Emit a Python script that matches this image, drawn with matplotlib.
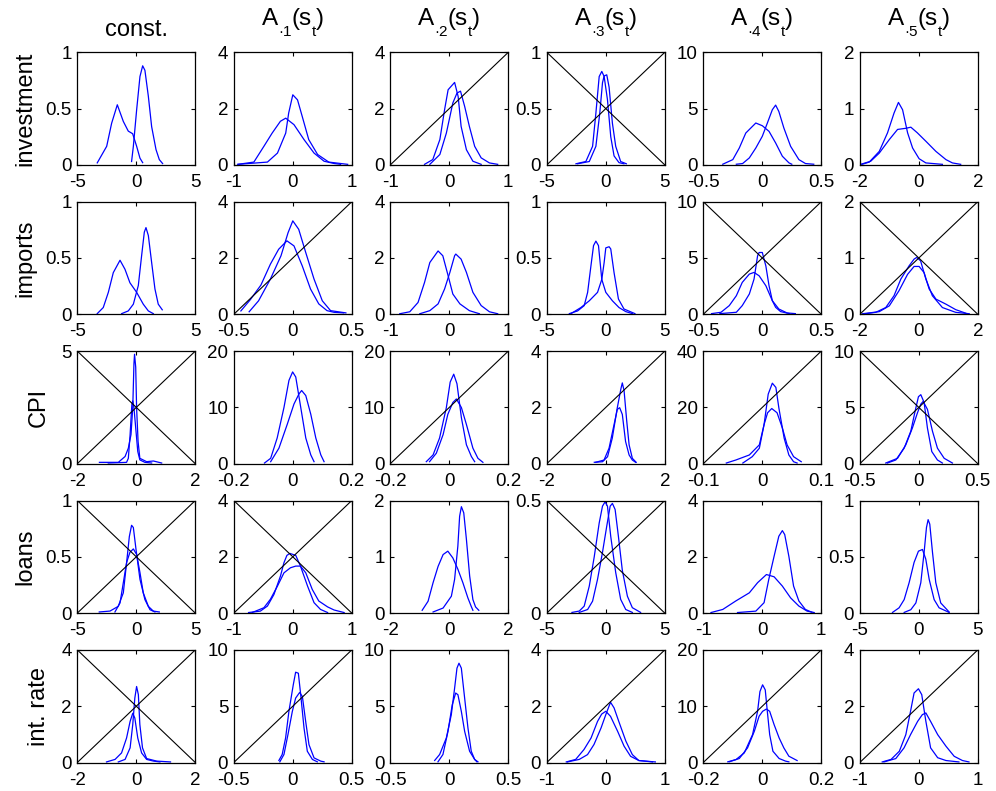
import matplotlib
matplotlib.use("Agg")
import matplotlib.pyplot as plt
from matplotlib.transforms import offset_copy

plt.rcParams["font.family"] = ["Liberation Sans", "DejaVu Sans"]
plt.rcParams["axes.unicode_minus"] = False

# Column headers: (text, size, baseline shift in pt) pieces, and row (variable) names
col_titles = [
    [("const.", 17, 0)],
    [("A", 17.5, 0), ("\u00b71", 11, -8), ("(s", 17.5, 0), ("t", 11, -8), (")", 17.5, 0)],
    [("A", 17.5, 0), ("\u00b72", 11, -8), ("(s", 17.5, 0), ("t", 11, -8), (")", 17.5, 0)],
    [("A", 17.5, 0), ("\u00b73", 11, -8), ("(s", 17.5, 0), ("t", 11, -8), (")", 17.5, 0)],
    [("A", 17.5, 0), ("\u00b74", 11, -8), ("(s", 17.5, 0), ("t", 11, -8), (")", 17.5, 0)],
    [("A", 17.5, 0), ("\u00b75", 11, -8), ("(s", 17.5, 0), ("t", 11, -8), (")", 17.5, 0)],
]
row_names = ["investment", "imports", "CPI", "loans", "int. rate"]

# Half-width of the x range and top of the y range for each panel
x_half = [[5, 1, 1, 5, 0.5, 2],
          [5, 0.5, 1, 5, 0.5, 2],
          [2, 0.2, 0.2, 2, 0.1, 0.5],
          [5, 1, 2, 5, 1, 5],
          [2, 0.5, 0.5, 1, 0.2, 1]]
y_top = [[1, 4, 4, 1, 10, 2],
         [1, 4, 4, 1, 10, 2],
         [5, 20, 20, 4, 40, 10],
         [1, 4, 2, 0.5, 4, 1],
         [4, 10, 10, 4, 20, 4]]

# Reference diagonals: "/" rising, "x" both diagonals, "" none
diagonals = [["", "", "/", "x", "", ""],
             ["", "/", "", "", "x", "x"],
             ["x", "", "/", "/", "/", "x"],
             ["x", "x", "", "x", "", ""],
             ["x", "/", "", "/", "/", "/"]]

# Posterior densities: for each panel two curves, each as (x, density)
investment = [
    (([-3.31, -2.51, -2.09, -1.61, -1.10, -0.68, -0.31, 0.03, 0.31, 0.54],
      [0.018, 0.165, 0.37, 0.534, 0.386, 0.30, 0.277, 0.165, 0.06, 0.02]),
     ([-0.40, -0.25, 0.03, 0.31, 0.54, 0.73, 1.02, 1.30, 1.67, 1.95, 2.23],
      [0.03, 0.165, 0.49, 0.785, 0.88, 0.84, 0.61, 0.34, 0.136, 0.047, 0.012])),
    (([-0.93, -0.66, -0.49, -0.35, -0.21, -0.12, 0.02, 0.19, 0.36, 0.53, 0.70, 0.81],
      [0.02, 0.1, 0.66, 1.13, 1.55, 1.66, 1.43, 0.9, 0.42, 0.13, 0.05, 0.02]),
     ([-0.93, -0.43, -0.26, -0.12, -0.07, 0.0, 0.08, 0.16, 0.27, 0.42, 0.61, 0.93],
      [0.02, 0.1, 0.42, 1.13, 1.84, 2.49, 2.31, 1.72, 0.9, 0.37, 0.1, 0.02])),
    (([-0.42, -0.28, -0.16, -0.08, -0.02, 0.09, 0.15, 0.20, 0.29, 0.40, 0.54],
      [0.02, 0.19, 0.9, 1.96, 2.67, 2.93, 2.43, 1.37, 0.54, 0.13, 0.02]),
     ([-0.33, -0.16, -0.05, 0.06, 0.13, 0.19, 0.26, 0.34, 0.43, 0.54, 0.68, 0.82],
      [0.02, 0.37, 1.13, 2.2, 2.55, 2.62, 2.08, 1.37, 0.66, 0.25, 0.07, 0.02])),
    (([-2.53, -1.69, -1.12, -0.84, -0.56, -0.34, -0.14, 0.14, 0.42, 0.70, 1.12, 1.54],
      [0.01, 0.03, 0.165, 0.46, 0.785, 0.83, 0.785, 0.58, 0.25, 0.08, 0.02, 0.01]),
     ([-2.39, -1.40, -0.84, -0.51, -0.28, -0.14, 0.08, 0.28, 0.56, 0.84, 1.26, 1.74],
      [0.01, 0.03, 0.165, 0.46, 0.73, 0.79, 0.80, 0.69, 0.37, 0.165, 0.03, 0.01])),
    (([-0.335, -0.25, -0.195, -0.14, -0.055, 0.0, 0.057, 0.113, 0.17, 0.226, 0.25],
      [0.06, 0.47, 1.5, 2.83, 3.72, 3.48, 2.98, 1.95, 0.77, 0.18, 0.06]),
     ([-0.22, -0.167, -0.11, -0.055, 0.0, 0.043, 0.085, 0.113, 0.14, 0.183, 0.24, 0.31, 0.366, 0.436],
      [0.06, 0.12, 0.62, 1.5, 2.54, 3.72, 4.9, 5.31, 4.75, 3.27, 1.65, 0.47, 0.12, 0.06])),
    (([-1.93, -1.68, -1.34, -1.06, -0.84, -0.69, -0.55, -0.38, -0.21, 0.01, 0.24, 0.80],
      [0.01, 0.05, 0.24, 0.57, 0.92, 1.11, 0.98, 0.57, 0.30, 0.11, 0.035, 0.01]),
     ([-1.97, -1.63, -1.34, -1.0, -0.72, -0.44, -0.27, -0.05, 0.24, 0.58, 0.92, 1.14, 1.42],
      [0.01, 0.065, 0.21, 0.45, 0.63, 0.65, 0.67, 0.57, 0.42, 0.24, 0.094, 0.035, 0.01])),
]

imports = [
    (([-3.31, -2.8, -2.37, -1.95, -1.38, -0.96, -0.54, 0.03, 0.59, 1.02, 1.44],
      [0.006, 0.06, 0.195, 0.37, 0.48, 0.40, 0.28, 0.195, 0.09, 0.03, 0.006]),
     ([-1.24, -0.68, -0.25, 0.17, 0.45, 0.68, 0.82, 1.02, 1.30, 1.58, 1.86, 2.20],
      [0.006, 0.03, 0.09, 0.255, 0.52, 0.73, 0.77, 0.70, 0.46, 0.225, 0.09, 0.04])),
    (([-0.44, -0.36, -0.27, -0.19, -0.12, -0.05, 0.01, 0.08, 0.15, 0.22, 0.29, 0.35, 0.43],
      [0.12, 0.52, 1.04, 1.78, 2.31, 2.61, 2.43, 1.72, 0.9, 0.37, 0.13, 0.07, 0.05]),
     ([-0.37, -0.29, -0.19, -0.10, -0.04, 0.0, 0.05, 0.11, 0.18, 0.25, 0.32, 0.45],
      [0.09, 0.48, 1.25, 2.08, 2.9, 3.32, 3.02, 2.19, 1.25, 0.48, 0.13, 0.05])),
    (([-0.84, -0.67, -0.53, -0.42, -0.33, -0.19, -0.11, -0.02, 0.06, 0.18, 0.34, 0.51],
      [0.02, 0.09, 0.42, 1.13, 1.84, 2.25, 2.08, 1.37, 0.72, 0.37, 0.13, 0.02]),
     ([-0.50, -0.33, -0.19, -0.08, 0.01, 0.09, 0.11, 0.2, 0.29, 0.40, 0.54, 0.68, 0.82],
      [0.02, 0.13, 0.37, 0.9, 1.49, 2.08, 2.14, 1.96, 1.49, 0.78, 0.31, 0.09, 0.02])),
    (([-3.09, -2.39, -1.83, -1.54, -1.26, -1.04, -0.84, -0.62, -0.34, 0.0, 0.56, 1.12, 1.69, 2.25],
      [0.006, 0.03, 0.077, 0.195, 0.43, 0.61, 0.65, 0.61, 0.31, 0.195, 0.12, 0.06, 0.024, 0.006]),
     ([-2.95, -2.11, -1.40, -0.70, -0.34, -0.14, 0.0, 0.28, 0.42, 0.70, 1.07, 1.54, 2.47],
      [0.006, 0.06, 0.12, 0.195, 0.31, 0.46, 0.59, 0.60, 0.58, 0.37, 0.136, 0.047, 0.006])),
    (([-0.43, -0.35, -0.28, -0.22, -0.17, -0.11, -0.07, -0.027, 0.03, 0.085, 0.14, 0.21, 0.28],
      [0.06, 0.18, 0.77, 1.65, 2.83, 3.57, 3.72, 3.42, 2.54, 1.21, 0.47, 0.12, 0.06]),
     ([-0.36, -0.22, -0.17, -0.11, -0.07, -0.04, -0.027, 0.0, 0.03, 0.057, 0.085, 0.113, 0.155, 0.23],
      [0.06, 0.18, 0.77, 1.8, 3.13, 5.19, 5.49, 5.49, 4.3, 2.54, 1.21, 0.62, 0.24, 0.06])),
    (([-1.80, -1.46, -1.12, -0.84, -0.61, -0.33, -0.16, -0.07, 0.06, 0.24, 0.46, 0.80, 1.25, 1.71],
      [0.01, 0.035, 0.12, 0.33, 0.625, 0.86, 0.98, 1.01, 0.95, 0.625, 0.33, 0.12, 0.035, 0.01]),
     ([-1.91, -1.34, -1.0, -0.67, -0.38, -0.16, 0.01, 0.18, 0.35, 0.58, 0.92, 1.25, 1.59],
      [0.01, 0.047, 0.15, 0.42, 0.71, 0.85, 0.85, 0.74, 0.45, 0.27, 0.18, 0.083, 0.02])),
]

cpi = [
    (([-1.25, -0.61, -0.38, -0.27, -0.18, -0.12, -0.08, -0.06, -0.02, 0.01, 0.06, 0.12, 0.35, 0.58, 0.86],
      [0.06, 0.06, 0.32, 0.69, 1.29, 2.49, 4.44, 4.86, 4.29, 2.49, 0.99, 0.24, 0.09, 0.12, 0.03]),
     ([-0.95, -0.33, -0.27, -0.21, -0.15, -0.12, -0.08, -0.01, 0.05, 0.12, 0.29, 0.52],
      [0.03, 0.06, 0.24, 1.29, 2.64, 2.79, 2.49, 1.44, 0.54, 0.17, 0.06, 0.03])),
    (([-0.096, -0.075, -0.053, -0.030, -0.013, -0.0006, 0.010, 0.027, 0.044, 0.061, 0.072],
      [0.12, 0.96, 4.56, 9.97, 14.8, 16.3, 15.4, 9.97, 4.56, 1.56, 0.36]),
     ([-0.075, -0.047, -0.019, 0.004, 0.021, 0.030, 0.044, 0.061, 0.078, 0.095, 0.106],
      [0.36, 2.76, 6.97, 10.6, 12.4, 13.0, 12.1, 8.77, 4.56, 1.56, 0.36])),
    (([-0.078, -0.055, -0.033, -0.010, 0.003, 0.015, 0.026, 0.041, 0.058, 0.075, 0.086],
      [0.36, 1.56, 4.56, 9.97, 14.5, 15.9, 14.2, 8.17, 3.36, 1.26, 0.36]),
     ([-0.067, -0.044, -0.021, -0.005, 0.012, 0.024, 0.041, 0.058, 0.080, 0.097, 0.114],
      [0.36, 1.86, 5.17, 8.77, 10.87, 11.5, 9.97, 6.97, 2.76, 0.96, 0.24])),
    (([-0.39, -0.11, 0.06, 0.22, 0.39, 0.51, 0.56, 0.62, 0.71, 0.79, 0.90, 1.03],
      [0.05, 0.07, 0.25, 0.91, 1.99, 2.65, 2.87, 2.59, 1.51, 0.67, 0.19, 0.05]),
     ([-0.34, -0.06, 0.11, 0.28, 0.39, 0.47, 0.56, 0.67, 0.79, 0.90, 1.01],
      [0.05, 0.13, 0.55, 1.39, 1.93, 1.99, 1.75, 0.79, 0.31, 0.13, 0.05])),
    (([-0.061, -0.045, -0.022, -0.005, 0.003, 0.010, 0.017, 0.023, 0.028, 0.037, 0.045, 0.053, 0.059],
      [0.24, 1.3, 3.1, 6.7, 13.9, 24.7, 28.6, 27.1, 19.9, 9.1, 3.1, 0.7, 0.24]),
     ([-0.033, -0.017, -0.005, 0.003, 0.009, 0.016, 0.025, 0.034, 0.042, 0.053, 0.066],
      [0.24, 2.5, 5.5, 13.9, 18.1, 19.6, 18.1, 12.7, 6.7, 2.5, 0.7])),
    (([-0.266, -0.195, -0.124, -0.068, -0.031, -0.003, 0.017, 0.045, 0.073, 0.110, 0.158, 0.20],
      [0.06, 0.33, 1.38, 2.88, 4.68, 5.95, 6.13, 5.44, 3.18, 1.08, 0.33, 0.06]),
     ([-0.28, -0.18, -0.11, -0.054, -0.011, 0.017, 0.037, 0.073, 0.116, 0.158, 0.215, 0.285],
      [0.06, 0.48, 1.68, 3.18, 4.53, 5.29, 5.53, 4.83, 2.88, 1.38, 0.48, 0.06])),
]

loans = [
    (([-3.14, -2.23, -1.53, -1.10, -0.82, -0.59, -0.40, -0.25, -0.03, 0.31, 0.73, 1.16, 1.58],
      [0.01, 0.018, 0.06, 0.18, 0.45, 0.68, 0.78, 0.76, 0.57, 0.30, 0.12, 0.03, 0.01]),
     ([-1.81, -1.38, -1.10, -0.82, -0.54, -0.25, 0.03, 0.31, 0.59, 1.02, 1.44, 1.95],
      [0.01, 0.09, 0.27, 0.45, 0.54, 0.57, 0.52, 0.36, 0.18, 0.06, 0.018, 0.01])),
    (([-0.75, -0.55, -0.43, -0.32, -0.21, -0.15, -0.10, -0.05, 0.05, 0.13, 0.25, 0.36, 0.47, 0.59],
      [0.02, 0.07, 0.25, 0.66, 1.31, 1.79, 2.05, 2.12, 2.05, 1.67, 0.96, 0.37, 0.13, 0.02]),
     ([-0.69, -0.49, -0.38, -0.26, -0.15, -0.04, 0.05, 0.13, 0.22, 0.33, 0.44, 0.59, 0.70, 0.87],
      [0.02, 0.19, 0.49, 0.96, 1.43, 1.61, 1.67, 1.67, 1.43, 0.84, 0.43, 0.22, 0.11, 0.02])),
    (([-0.92, -0.72, -0.55, -0.38, -0.21, -0.05, 0.12, 0.29, 0.46, 0.63, 0.75, 0.80],
      [0.05, 0.21, 0.54, 0.83, 1.04, 1.10, 0.98, 0.78, 0.54, 0.27, 0.11, 0.05]),
     ([-0.55, -0.21, 0.07, 0.18, 0.29, 0.35, 0.41, 0.49, 0.58, 0.69, 0.80, 0.89, 1.0],
      [0.02, 0.09, 0.30, 0.60, 1.19, 1.72, 1.89, 1.78, 1.31, 0.66, 0.24, 0.11, 0.05])),
    (([-2.87, -2.25, -1.83, -1.40, -0.98, -0.56, -0.28, -0.06, 0.14, 0.42, 0.84, 1.26, 1.69, 2.25],
      [0.003, 0.009, 0.031, 0.12, 0.25, 0.40, 0.475, 0.494, 0.475, 0.34, 0.18, 0.061, 0.016, 0.003]),
     ([-2.25, -1.54, -1.12, -0.70, -0.28, 0.08, 0.37, 0.56, 0.79, 1.07, 1.40, 1.83, 2.25, 2.95],
      [0.003, 0.016, 0.053, 0.15, 0.27, 0.386, 0.475, 0.487, 0.46, 0.34, 0.19, 0.075, 0.024, 0.003])),
    (([-0.87, -0.67, -0.45, -0.22, -0.08, 0.07, 0.20, 0.34, 0.48, 0.62, 0.76, 0.88],
      [0.02, 0.13, 0.43, 0.72, 1.08, 1.37, 1.29, 0.96, 0.54, 0.25, 0.07, 0.02]),
     ([-0.42, -0.11, 0.03, 0.11, 0.20, 0.28, 0.34, 0.38, 0.45, 0.53, 0.62, 0.73, 0.84],
      [0.02, 0.07, 0.37, 1.20, 2.02, 2.73, 2.93, 2.79, 2.02, 0.96, 0.43, 0.13, 0.03])),
    (([-2.23, -1.67, -1.24, -0.82, -0.40, -0.03, 0.31, 0.59, 0.88, 1.30, 1.72, 2.57],
      [0.006, 0.047, 0.12, 0.27, 0.45, 0.55, 0.565, 0.48, 0.30, 0.12, 0.047, 0.006]),
     ([-1.24, -0.68, -0.25, 0.17, 0.45, 0.65, 0.79, 0.93, 1.16, 1.44, 1.86, 2.57],
      [0.006, 0.03, 0.09, 0.27, 0.54, 0.76, 0.83, 0.79, 0.54, 0.27, 0.09, 0.01])),
]

int_rate = [
    (([-0.61, -0.38, -0.21, -0.12, -0.05, 0.01, 0.07, 0.12, 0.21, 0.35, 0.69, 1.16],
      [0.02, 0.11, 0.52, 1.35, 2.29, 2.70, 2.41, 1.35, 0.52, 0.14, 0.05, 0.02]),
     ([-1.01, -0.72, -0.50, -0.33, -0.21, -0.12, -0.05, 0.05, 0.18, 0.35, 0.58, 0.80],
      [0.02, 0.11, 0.34, 0.87, 1.46, 1.75, 1.58, 0.87, 0.34, 0.11, 0.05, 0.02])),
    (([-0.118, -0.09, -0.061, -0.033, 0.004, 0.024, 0.047, 0.067, 0.095, 0.123, 0.166, 0.208],
      [0.18, 0.71, 2.18, 4.54, 6.9, 8.02, 7.93, 6.02, 3.07, 1.0, 0.27, 0.06]),
     ([-0.11, -0.075, -0.041, -0.004, 0.024, 0.058, 0.081, 0.109, 0.137, 0.18, 0.237, 0.265],
      [0.06, 0.71, 2.48, 4.54, 5.72, 6.22, 5.87, 3.66, 1.59, 0.41, 0.12, 0.06])),
    (([-0.124, -0.082, -0.025, 0.017, 0.045, 0.065, 0.082, 0.102, 0.130, 0.158, 0.186, 0.215, 0.243],
      [0.18, 0.71, 2.18, 4.25, 6.6, 8.38, 8.82, 8.38, 5.72, 3.07, 1.0, 0.27, 0.06]),
     ([-0.096, -0.054, -0.011, 0.025, 0.054, 0.073, 0.102, 0.130, 0.172, 0.215, 0.234],
      [0.06, 0.71, 2.77, 5.13, 6.17, 6.02, 4.54, 2.77, 1.0, 0.27, 0.06])),
    (([-0.67, -0.51, -0.37, -0.25, -0.14, -0.07, 0.0, 0.08, 0.20, 0.31, 0.42, 0.56, 0.84],
      [0.02, 0.11, 0.46, 0.87, 1.46, 1.72, 1.82, 1.64, 1.11, 0.58, 0.22, 0.07, 0.02]),
     ([-0.65, -0.45, -0.31, -0.20, -0.08, 0.0, 0.06, 0.08, 0.14, 0.22, 0.34, 0.45, 0.56, 0.79],
      [0.02, 0.11, 0.28, 0.64, 1.23, 1.70, 2.03, 2.14, 1.94, 1.46, 0.76, 0.28, 0.07, 0.02])),
    (([-0.117, -0.089, -0.061, -0.033, -0.016, -0.008, 0.001, 0.010, 0.017, 0.025, 0.036, 0.057, 0.079, 0.09],
      [0.12, 0.53, 1.71, 4.96, 9.09, 12.6, 13.8, 12.9, 9.09, 4.96, 2.0, 0.71, 0.24, 0.12]),
     ([-0.112, -0.078, -0.050, -0.027, -0.011, 0.001, 0.014, 0.025, 0.04, 0.057, 0.073, 0.09, 0.118],
      [0.12, 0.71, 2.6, 5.55, 8.2, 9.09, 9.5, 9.09, 6.73, 4.37, 2.6, 1.12, 0.35])),
    (([-0.62, -0.47, -0.33, -0.22, -0.14, -0.08, -0.006, 0.05, 0.12, 0.20, 0.32, 0.46, 0.68],
      [0.02, 0.11, 0.40, 0.99, 1.82, 2.47, 2.62, 2.41, 1.46, 0.52, 0.17, 0.07, 0.02]),
     ([-0.59, -0.39, -0.25, -0.14, -0.02, 0.06, 0.12, 0.20, 0.32, 0.46, 0.60, 0.74, 0.85],
      [0.02, 0.14, 0.52, 0.99, 1.46, 1.70, 1.76, 1.46, 0.99, 0.58, 0.22, 0.07, 0.02])),
]

rows = [investment, imports, cpi, loans, int_rate]

# x position (pixels) of each row label baseline
label_x_px = [31, 31, 45, 31.5, 45]

W, H = 996, 791
fig = plt.figure(figsize=(W / 100, H / 100), dpi=100)
fig.patch.set_facecolor("white")
renderer = fig.canvas.get_renderer()

ax_w, ax_h = 118 / W, 112.6 / H
col_left_px = [77.3 + 156.5 * c for c in range(6)]
row_top_px = [52.3 + 149.4 * r for r in range(5)]

tick_fs = 13.5
lw_frame = 0.9


def header(ax, pieces):
    """Write a header made of pieces with their own size and baseline shift."""
    base = 11.7 if len(pieces) == 1 else 19.7
    widths = []
    for s, fs, _ in pieces:
        probe = fig.text(0, 0, s, fontsize=fs)
        widths.append(probe.get_window_extent(renderer).width)
        probe.remove()
    x = -sum(widths) / 2
    for (s, fs, dy), w in zip(pieces, widths):
        tr = offset_copy(ax.transAxes, fig=fig, x=x * 72 / fig.dpi,
                         y=base + dy, units="points")
        ax.text(0.5, 1.0, s, transform=tr, ha="left", va="baseline",
                fontsize=fs)
        x += w


for r in range(5):
    for c in range(6):
        left = col_left_px[c] / W
        bottom = 1 - row_top_px[r] / H - ax_h
        ax = fig.add_axes([left, bottom, ax_w, ax_h])

        xm = x_half[r][c]
        ym = y_top[r][c]
        for xs, ys in rows[r][c]:
            ax.plot(xs, ys, color="#0000ff", lw=0.9)

        kind = diagonals[r][c]
        if kind in ("/", "x"):
            ax.plot([0, 1], [0, 1], transform=ax.transAxes, color="black", lw=0.8)
        if kind == "x":
            ax.plot([0, 1], [1, 0], transform=ax.transAxes, color="black", lw=0.8)

        ax.set_xlim(-xm, xm)
        ax.set_ylim(0, ym)
        xt = [-xm, 0, xm]
        # a half-way y tick only where it is a round number
        yt = [0, ym] if ("%e" % ym)[0] == "5" else [0, ym / 2, ym]
        ax.set_xticks(xt)
        ax.set_yticks(yt)
        ax.set_xticklabels(["%g" % v for v in xt])
        ax.set_yticklabels(["%g" % v for v in yt])
        ax.tick_params(direction="in", length=3, width=0.8, labelsize=tick_fs,
                       top=True, right=True, colors="black")
        ax.tick_params(axis="x", pad=6.5)
        ax.tick_params(axis="y", pad=4)
        for s in ax.spines.values():
            s.set_linewidth(lw_frame)
            s.set_color("black")

        if r == 0:
            header(ax, col_titles[c])

        if c == 0:
            yc = 1 - (row_top_px[r] + 56.3) / H
            fig.text(label_x_px[r] / W, yc, row_names[r], rotation=90,
                     rotation_mode="anchor", ha="center", va="baseline",
                     fontsize=17)

fig.savefig("out.png", dpi=100, facecolor="white")
